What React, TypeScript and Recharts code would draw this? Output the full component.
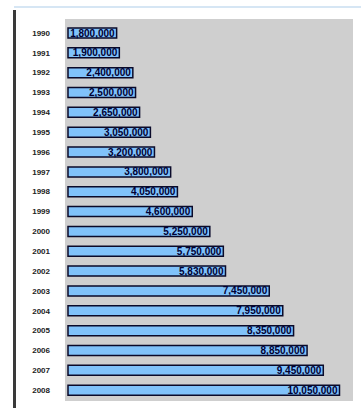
import { BarChart, Bar, XAxis, YAxis, CartesianGrid, LabelList } from 'recharts';

const years = [
  '1990', '1991', '1992', '1993', '1994', '1995', '1996', '1997', '1998', '1999',
  '2000', '2001', '2002', '2003', '2004', '2005', '2006', '2007', '2008',
];

const values = [
  1800000, 1900000, 2400000, 2500000, 2650000, 3050000, 3200000, 3800000, 4050000, 4600000,
  5250000, 5750000, 5830000, 7450000, 7950000, 8350000, 8850000, 9450000, 10050000,
];

const data = years.map((year, i) => ({ year, value: values[i] }));

const fmt = (v: number) => v.toLocaleString('en-US');

const App = () => {
  return (
    <div style={{ position: 'absolute', left: 0, top: 0, width: 361, height: 409, background: '#fff' }}>
      {/* window frame bits */}
      <div style={{ position: 'absolute', left: 14, top: 6, width: 347, height: 2, background: '#d6e6f4' }} />
      <div style={{ position: 'absolute', left: 13, top: 10, width: 3, height: 398, background: '#3a3a3a' }} />
      <BarChart
        width={361}
        height={409}
        data={data}
        layout="vertical"
        margin={{ top: 19, right: 8, bottom: 8, left: 0 }}
        barSize={10}
        style={{ fontFamily: 'Arial, "Liberation Sans", sans-serif' }}
      >
        <CartesianGrid fill="#cfcfcf" stroke="none" horizontal={false} vertical={false} />
        <XAxis type="number" hide domain={[0, 10550000]} padding={{ left: 3, right: 0 }} />
        <YAxis
          type="category"
          dataKey="year"
          width={65}
          axisLine={false}
          tickLine={false}
          tickSize={0}
          tickMargin={15}
          interval={0}
          padding={{ top: 4, bottom: 1 }}
          tick={{ fontSize: 8, fontWeight: 'bold', fill: '#222' }}
        />
        <Bar dataKey="value" fill="#80c2fa" stroke="#0a0a2a" strokeWidth={1.5} isAnimationActive={false}>
          <LabelList
            dataKey="value"
            position="insideRight"
            offset={2}
            formatter={(v: any) => fmt(Number(v))}
            style={{ fontSize: 10, fontWeight: 'bold', fill: '#000033' }}
          />
        </Bar>
      </BarChart>
    </div>
  );
};

export default App;
